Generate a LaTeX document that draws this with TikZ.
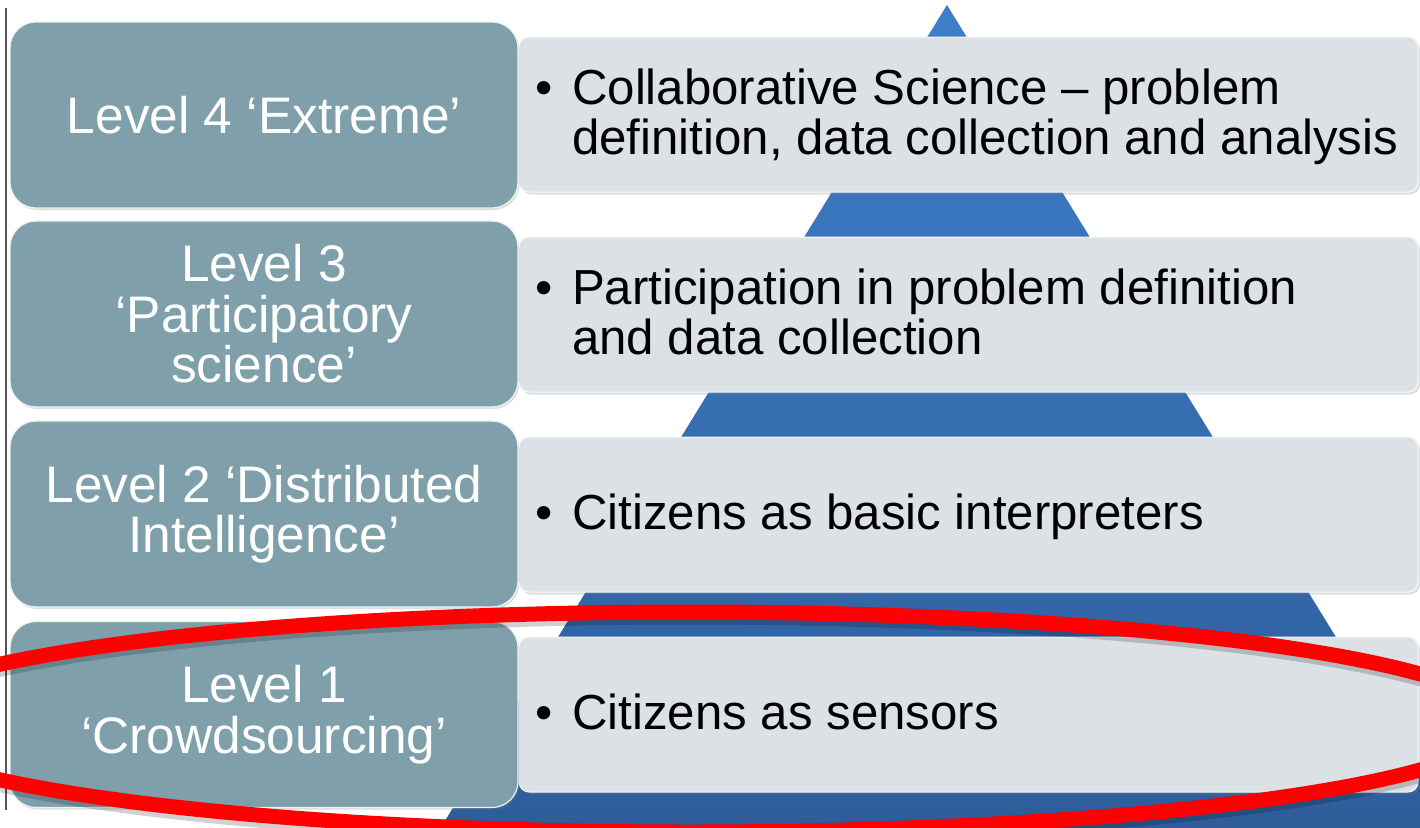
\documentclass[tikz,border=0pt]{standalone}
\usepackage{fontspec}
\setmainfont{Liberation Sans}
\usetikzlibrary{shadows}
\definecolor{tealbox}{RGB}{127,160,170}
\definecolor{lightbox}{RGB}{220,225,229}
\definecolor{bluetop}{RGB}{62,126,201}
\definecolor{bluebot}{RGB}{45,92,152}
\definecolor{framegray}{RGB}{85,85,85}
\begin{document}
\begin{tikzpicture}[x=1pt,y=-1pt,
  levelbox/.style={fill=tealbox, draw=white!85!tealbox, line width=1.2pt, rounded corners=26pt,
    minimum width=508pt, minimum height=186pt, inner sep=0pt, text=white, align=center,
    font=\fontsize{51.4}{50.5}\selectfont,
    drop shadow={shadow xshift=1.5pt, shadow yshift=-2pt, opacity=0.25}},
  descbox/.style={fill=lightbox, draw=white!80!lightbox, line width=1pt, rounded corners=10pt,
    minimum width=899pt, minimum height=155pt, inner sep=0pt,
    drop shadow={shadow xshift=2pt, shadow yshift=-2.5pt, opacity=0.25}},
  desctext/.style={anchor=west, text=black, inner sep=0pt, font=\fontsize{49.2}{48}\selectfont},
  ring/.style={draw=red, line width=15pt},
  ringshadow/.style={draw=black, opacity=0.18, line width=15pt},
]
\useasboundingbox (0,0) rectangle (1420,827);
\begin{scope}
\clip (0,0) rectangle (1420,827);
\fill[white] (0,0) rectangle (1420,827);
% pyramid
\shade[top color=bluetop, bottom color=bluebot] (947,5) -- (1467,850) -- (427,850) -- cycle;
% frame line
\coordinate (ft) at (6,8);
\coordinate (fb) at (6,810);
\draw[framegray, line width=1.3pt] (ft) -- (fb);
% description boxes
\node[descbox] (d4) at (968.5,114.5) {};
\node[descbox] (d3) at (968.5,314.5) {};
\node[descbox] (d2) at (968.5,514.5) {};
\node[descbox] (d1) at (968.5,714.5) {};
% level boxes
\node[levelbox] (l4) at (264,115) {Level 4 ‘Extreme’};
\node[levelbox] (l3) at (264,314) {Level 3\\‘Participatory\\science’};
\node[levelbox] (l2) at (264,514) {Level 2 ‘Distributed\\Intelligence’};
\node[levelbox] (l1) at (264,714.5) {Level 1\\‘Crowdsourcing’};
% texts
\node[desctext] (t4) at (535,119) {\begin{tabular}{@{}l@{}l@{}}\makebox[37pt][l]{•}&Collaborative Science – problem\\&definition, data collection and analysis\end{tabular}};
\node[desctext] (t3) at (535,319) {\begin{tabular}{@{}l@{}l@{}}\makebox[37pt][l]{•}&Participation in problem definition\\&and data collection\end{tabular}};
\node[desctext] (t2) at (535,519) {\begin{tabular}{@{}l@{}l@{}}\makebox[37pt][l]{•}&Citizens as basic interpreters\end{tabular}};
\node[desctext] (t1) at (535,719) {\begin{tabular}{@{}l@{}l@{}}\makebox[37pt][l]{•}&Citizens as sensors\end{tabular}};
% red ring
\draw[ringshadow] (691,727) ellipse [x radius=811pt, y radius=110pt];
\draw[ring] (690,722) ellipse [x radius=811pt, y radius=110pt];
\end{scope}
\end{tikzpicture}
\end{document}
